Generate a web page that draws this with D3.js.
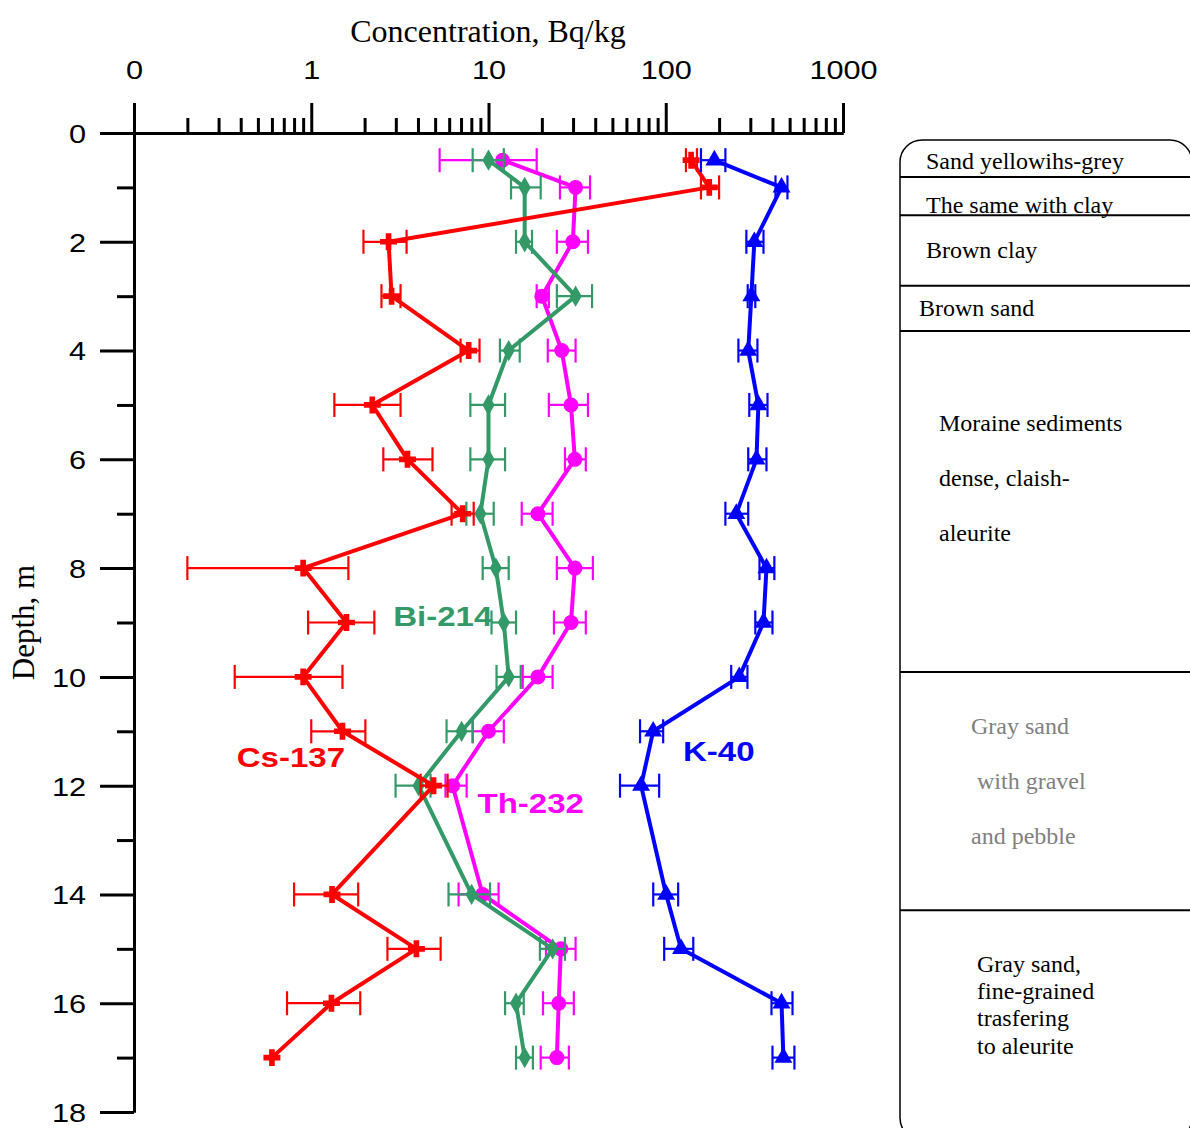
<!DOCTYPE html>
<html><head><meta charset="utf-8">
<script src="https://cdn.jsdelivr.net/npm/d3@7"></script>
<style>body{margin:0;background:#fff}svg{display:block}</style>
</head><body>
<svg id="c" width="1190" height="1128"></svg>
<script>
// ---- data ----
const depths = [0.5,1,2,3,4,5,6,7,8,9,10,11,12,14,15,16,17];
const cs137   = [139,176,2.73,2.84,7.73,2.21,3.49,7.15,0.90,1.58,0.90,1.50,4.9,1.31,3.92,1.30,0.60];
const cs137Lo = [130,158,1.97,2.49,6.96,1.35,2.55,6.19,0.20,0.96,0.37,1.00,4.14,0.80,2.69,0.73,0.60];
const cs137Hi = [150,200,3.45,3.19,8.90,3.19,4.83,8.25,1.62,2.27,1.50,2.02,5.88,1.84,5.37,1.89,0.60];
const bi214   = [10,16,16,31,13,10,10,9.0,11,12.2,13,7.05,4.03,8.03,23,14.3,16];
const bi214Lo = [8.14,13.4,14.3,24.3,11.6,7.9,7.9,7.5,9.27,10.4,11.1,5.8,2.99,5.95,19.5,12.4,14.3];
const bi214Hi = [12.2,19.7,17.6,38.4,15,12.4,12.4,10.7,13,14.3,15.2,8.14,4.71,10.2,27,15.8,17.8];
const th232   = [12,31,29.9,20,25.9,29.2,30.7,19,30.7,29.2,19,10,6.27,9.27,25.6,24.9,24.3];
const th232Lo = [5.3,25.3,24.3,18.7,21.6,21.9,27,15.4,24.3,23.4,15.6,8.14,5.72,6.78,21.1,20.3,19.7];
const th232Hi = [18.7,37.4,36.4,21.9,31,36.4,35.4,23,38.8,35.4,23,12.2,7.53,11.4,31,30.3,28.4];
const k40     = [188,450,316,304,292,333,325,250,370,356,260,84.9,72.6,100.5,122,450,461];
const k40Lo   = [158,416,285,290,257,296,292,217,338,320,234,71.6,55.2,85,98,395,400];
const k40Hi   = [217,486,356,320,329,375,370,292,410,400,289,96.7,91.8,117.5,143,519,532];
const xTickValues = [0.1,1,10,100,1000];
const xTickLabels = ["0","1","10","100","1000"];
const yTickValues = [0,2,4,6,8,10,12,14,16,18];
const layerBounds = [0.81,1.51,2.81,3.64,9.91,14.29]; // depths (m) of lithology dividers
const layerTexts = [
  {lines:["Sand yellowihs-grey"], depth:0.5, xo:26, gray:false},
  {lines:["The same with clay"], depth:1.32, xo:26, gray:false},
  {lines:["Brown clay"], depth:2.15, xo:26, gray:false},
  {lines:["Brown sand"], depth:3.21, xo:19, gray:false},
  {lines:["Moraine sediments","dense, claish-","aleurite"], depth:5.33, xo:39, gray:false, gap:1.01},
  {lines:["Gray sand"," with gravel","and pebble"], depth:10.9, xo:71, gray:true, gap:1.01},
  {lines:["Gray sand,","fine-grained","trasfering","to aleurite"], depth:15.27, xo:77, gray:false, gap:0.5}
];
const seriesLabels = [
  {text:"Bi-214", v:2.9, d:9.06, color:"#339966"},
  {text:"Cs-137", v:0.38, d:11.65, color:"#ff0000"},
  {text:"Th-232", v:8.67, d:12.5, color:"#ff00ff"},
  {text:"K-40",  v:125, d:11.55, color:"#0000ff"}
];

const svg = d3.select("#c");
const x = d3.scaleLog().domain([0.1,1000]).range([134,843]);
const y = d3.scaleLinear().domain([0,18]).range([133,1112]);
const SX = 1.18;
const sans = "'Liberation Sans', Arial, sans-serif";
const serif = "'Liberation Serif', 'Times New Roman', serif";

// ---- axes ----
const minor = [];
for (let e=-1;e<3;e++) for (let m=2;m<10;m++) minor.push(m*Math.pow(10,e));
const gxm = svg.append("g").attr("transform","translate(0,133)")
  .call(d3.axisTop(x).tickValues(minor).tickSize(15).tickSizeOuter(0).tickFormat(""));
const gx = svg.append("g").attr("transform","translate(0,133)")
  .call(d3.axisTop(x).tickValues(xTickValues).tickSize(30).tickSizeOuter(0).tickPadding(24)
    .tickFormat((d,i)=>xTickLabels[i]));
const gym = svg.append("g").attr("transform","translate(134,0)")
  .call(d3.axisLeft(y).tickValues([1,3,5,7,9,11,13,15,17]).tickSize(17).tickSizeOuter(0).tickFormat(""));
const gy = svg.append("g").attr("transform","translate(134,0)")
  .call(d3.axisLeft(y).tickValues(yTickValues).tickSize(34).tickSizeOuter(0).tickPadding(14));
[gxm,gx,gym,gy].forEach(g=>{
  g.selectAll("path.domain").attr("stroke","#000").attr("stroke-width",3);
  g.selectAll(".tick line").attr("stroke","#000").attr("stroke-width",3);
});
gx.selectAll(".tick text").attr("font-family",sans).attr("font-size",26).attr("fill","#000")
  .attr("transform",`scale(${SX},1)`);
gy.selectAll(".tick text").attr("font-family",sans).attr("font-size",26).attr("fill","#000")
  .attr("dy","0.36em")
  .each(function(){const t=d3.select(this); t.attr("x",+t.attr("x")/SX);})
  .attr("transform",`scale(${SX},1)`);

svg.append("text").attr("x",488).attr("y",42).attr("text-anchor","middle")
  .attr("font-family",serif).attr("font-size",32).text("Concentration, Bq/kg");
svg.append("text").attr("transform",`translate(34,${y(9)}) rotate(-90)`).attr("text-anchor","middle")
  .attr("font-family",serif).attr("font-size",31).text("Depth, m");

// ---- series ----
function drawSeries(vals,lo,hi,color,symbol,size,isCircle){
  const pts = depths.map((d,i)=>({d,v:vals[i],lo:lo[i],hi:hi[i]}));
  const g = svg.append("g");
  g.append("path").datum(pts).attr("fill","none").attr("stroke",color).attr("stroke-width",4)
    .attr("stroke-linejoin","round")
    .attr("d",d3.line().x(p=>x(p.v)).y(p=>y(p.d)));
  const eb = g.selectAll("g.eb").data(pts.filter(p=>p.hi>p.lo)).join("g")
    .attr("stroke",color).attr("stroke-width",2.2);
  eb.append("line").attr("x1",p=>x(p.lo)).attr("x2",p=>x(p.hi)).attr("y1",p=>y(p.d)).attr("y2",p=>y(p.d));
  eb.append("line").attr("x1",p=>x(p.lo)).attr("x2",p=>x(p.lo)).attr("y1",p=>y(p.d)-12).attr("y2",p=>y(p.d)+12);
  eb.append("line").attr("x1",p=>x(p.hi)).attr("x2",p=>x(p.hi)).attr("y1",p=>y(p.d)-12).attr("y2",p=>y(p.d)+12);
  if (isCircle) {
    g.selectAll("circle").data(pts).join("circle").attr("cx",p=>x(p.v)).attr("cy",p=>y(p.d))
      .attr("r",7.5).attr("fill",color);
  } else {
    g.selectAll("path.m").data(pts).join("path").attr("class","m")
      .attr("transform",p=>`translate(${x(p.v)},${y(p.d)})`)
      .attr("d",d3.symbol().type(symbol).size(size)).attr("fill",color);
  }
}
drawSeries(th232,th232Lo,th232Hi,"#ff00ff",null,0,true);
drawSeries(bi214,bi214Lo,bi214Hi,"#339966",d3.symbolDiamond,130,false);
drawSeries(cs137,cs137Lo,cs137Hi,"#ff0000",d3.symbolCross,160,false);
drawSeries(k40,k40Lo,k40Hi,"#0000ff",d3.symbolTriangle,140,false);

seriesLabels.forEach(s=>{
  svg.append("text").attr("transform",`translate(${x(s.v)},${y(s.d)}) scale(${SX},1)`)
    .attr("font-family",sans).attr("font-weight","bold").attr("font-size",28)
    .attr("fill",s.color).text(s.text);
});

// ---- lithology panel ----
const px = 900;
svg.append("rect").attr("x",px).attr("y",140).attr("width",292).attr("height",1000)
  .attr("rx",22).attr("fill","none").attr("stroke","#000").attr("stroke-width",1.5);
svg.selectAll("line.lb").data(layerBounds).join("line").attr("class","lb")
  .attr("x1",px).attr("x2",1190).attr("y1",d=>y(d)).attr("y2",d=>y(d))
  .attr("stroke","#000").attr("stroke-width",2);
layerTexts.forEach(t=>{
  const gap = t.gap||1;
  t.lines.forEach((ln,i)=>{
    svg.append("text").attr("x",px+t.xo).attr("y",y(t.depth+i*gap)).attr("dy","0.35em")
      .attr("font-family",serif).attr("font-size",24).attr("xml:space","preserve")
      .style("white-space","pre")
      .attr("fill",t.gray?"#808080":"#000").text(ln);
  });
});
</script>
</body></html>
